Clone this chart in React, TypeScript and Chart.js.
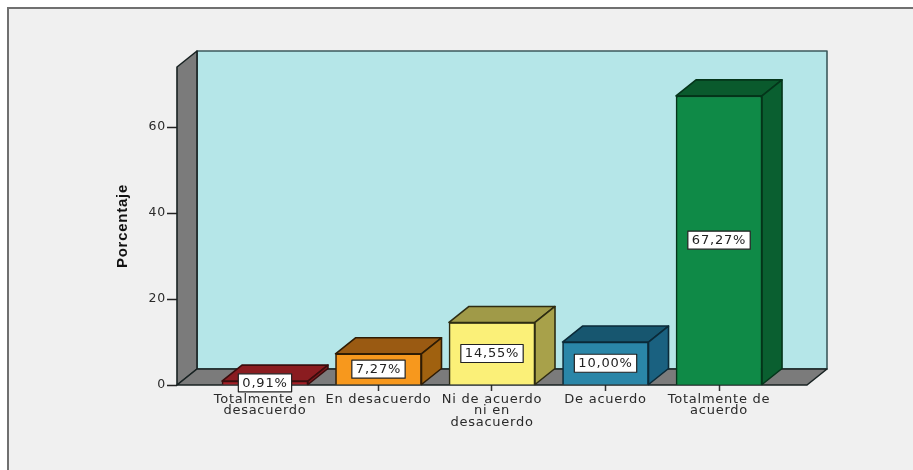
import React, { useEffect, useRef } from "react";
import { Chart, registerables } from "chart.js";

Chart.register(...registerables);

const categories = [
  ["Totalmente en", "desacuerdo"],
  ["En desacuerdo"],
  ["Ni de acuerdo", "ni en", "desacuerdo"],
  ["De acuerdo"],
  ["Totalmente de", "acuerdo"],
];
const percentages = [0.91, 7.27, 14.55, 10.0, 67.27];
const frontColors = ["#a51f26", "#f7981d", "#fbf078", "#2a86a8", "#0f8a47"];
const topColors = ["#8a1c20", "#9a5a12", "#a09a48", "#17566f", "#0a5a2d"];
const sideColors = ["#7e191d", "#a0610f", "#a8a14a", "#1a6180", "#0a5f30"];
const edgeColors = ["#3a0d0d", "#2e1c05", "#2e2c12", "#0b2a38", "#04351a"];

const DEPTH_X = 20;
const DEPTH_Y = 16;

function face(ctx: CanvasRenderingContext2D, pts: number[][], fill: string, stroke: string) {
  ctx.beginPath();
  pts.forEach(([x, y], i) => (i ? ctx.lineTo(x, y) : ctx.moveTo(x, y)));
  ctx.closePath();
  ctx.fillStyle = fill;
  ctx.fill();
  ctx.lineWidth = 1.6;
  ctx.strokeStyle = stroke;
  ctx.lineJoin = "round";
  ctx.stroke();
}

// Page frame, walls and floor of the box behind the bars.
const boxPlugin = {
  id: "box3d",
  beforeDraw(chart: any) {
    const { ctx, width, height } = chart;
    ctx.save();
    ctx.fillStyle = "#ffffff";
    ctx.fillRect(0, 0, width, height);
    ctx.fillStyle = "#f0f0f0";
    ctx.fillRect(8, 8, width - 8, height - 8);
    ctx.strokeStyle = "#707070";
    ctx.lineWidth = 2;
    ctx.beginPath();
    ctx.moveTo(8, height);
    ctx.lineTo(8, 8);
    ctx.lineTo(width, 8);
    ctx.stroke();
    ctx.restore();
    // The chart's small type is set wide.
    ctx.letterSpacing = "0.75px";
  },
  beforeDatasetsDraw(chart: any) {
    const { ctx, chartArea: a } = chart;
    const bx = a.left + DEPTH_X;
    const rx = a.right + DEPTH_X;
    const ty = a.top - DEPTH_Y;
    const by = a.bottom - DEPTH_Y;
    ctx.save();
    face(ctx, [[bx, ty], [rx, ty], [rx, by], [bx, by]], "#b5e6e8", "#3c5a5c");
    face(ctx, [[a.left, a.top], [bx, ty], [bx, by], [a.left, a.bottom]], "#7b7b7b", "#182222");
    face(ctx, [[a.left, a.bottom], [bx, by], [rx, by], [a.right, a.bottom]], "#7b7b7b", "#182222");
    ctx.restore();
  },
  afterDatasetsDraw(chart: any) {
    const { ctx } = chart;
    const bars = chart.getDatasetMeta(0).data;
    ctx.save();
    bars.forEach((bar: any, i: number) => {
      const l = bar.x - bar.width / 2;
      const r = bar.x + bar.width / 2;
      const t = bar.y;
      const b = bar.base;
      face(ctx, [[l, t], [l + DEPTH_X, t - DEPTH_Y], [r + DEPTH_X, t - DEPTH_Y], [r, t]], topColors[i], edgeColors[i]);
      face(ctx, [[r, t], [r + DEPTH_X, t - DEPTH_Y], [r + DEPTH_X, b - DEPTH_Y], [r, b]], sideColors[i], edgeColors[i]);
    });
    // Percentage boxes centred on each bar's front face, sized to their text.
    ctx.font = '13px "DejaVu Sans"';
    ctx.letterSpacing = "0.8px";
    ctx.textAlign = "center";
    ctx.textBaseline = "middle";
    bars.forEach((bar: any, i: number) => {
      const text = percentages[i].toFixed(2).replace(".", ",") + "%";
      const cy = (bar.y + bar.base) / 2;
      const w = ctx.measureText(text).width + 8;
      const h = 18;
      ctx.fillStyle = "#ffffff";
      ctx.fillRect(bar.x - w / 2, cy - h / 2, w, h);
      ctx.strokeStyle = "#222222";
      ctx.lineWidth = 1.2;
      ctx.strokeRect(bar.x - w / 2, cy - h / 2, w, h);
      ctx.fillStyle = "#222222";
      ctx.fillText(text, bar.x, cy + 0.5);
    });
    ctx.restore();
  },
};

export default function App() {
  const ref = useRef<HTMLCanvasElement>(null);

  useEffect(() => {
    document.body.style.margin = "0";
    const chart = new Chart(ref.current!, {
      type: "bar",
      data: {
        datasets: [
          {
            data: percentages.map((v, i) => ({ x: i, y: v })),
            backgroundColor: frontColors,
            borderColor: edgeColors,
            borderWidth: 1.6,
            barThickness: 86,
          },
        ],
      },
      plugins: [boxPlugin],
      options: {
        responsive: false,
        animation: false,
        layout: { padding: { left: 114, right: 106, top: 67, bottom: 0 } },
        plugins: { legend: { display: false }, tooltip: { enabled: false } },
        scales: {
          x: {
            type: "linear",
            offset: false,
            min: -0.775,
            max: 4.775,
            grid: { display: true, offset: false, drawOnChartArea: false, drawTicks: true, tickLength: 6, color: "#333333", tickWidth: 1.5 },
            border: { display: false },
            afterBuildTicks: (axis: any) => {
              axis.ticks = categories.map((_, i) => ({ value: i }));
            },
            afterFit: (axis: any) => {
              axis.height = 85;
            },
            ticks: {
              autoSkip: false,
              maxRotation: 0,
              minRotation: 0,
              padding: 3,
              color: "#2a2a2a",
              font: { family: '"DejaVu Sans"', size: 13, lineHeight: 0.87 },
              callback: (v: any) => categories[v as number],
            },
          },
          y: {
            min: 0,
            max: 74,
            grid: { display: true, drawOnChartArea: false, tickLength: 10, color: "#222222", tickWidth: 1.5 },
            border: { display: false },
            afterBuildTicks: (axis: any) => {
              axis.ticks = [0, 20, 40, 60].map((value) => ({ value }));
            },
            afterFit: (axis: any) => {
              axis.width = 63;
            },
            ticks: {
              padding: 1,
              color: "#2a2a2a",
              font: { family: '"DejaVu Sans"', size: 12.5 },
            },
            title: {
              display: true,
              text: "Porcentaje",
              color: "#111111",
              padding: 0,
              font: { family: '"Liberation Sans"', size: 15, weight: "bold" },
            },
          },
        },
      },
    } as any);
    return () => chart.destroy();
  }, []);

  return <canvas ref={ref} width={913} height={470} style={{ display: "block" }} />;
}
